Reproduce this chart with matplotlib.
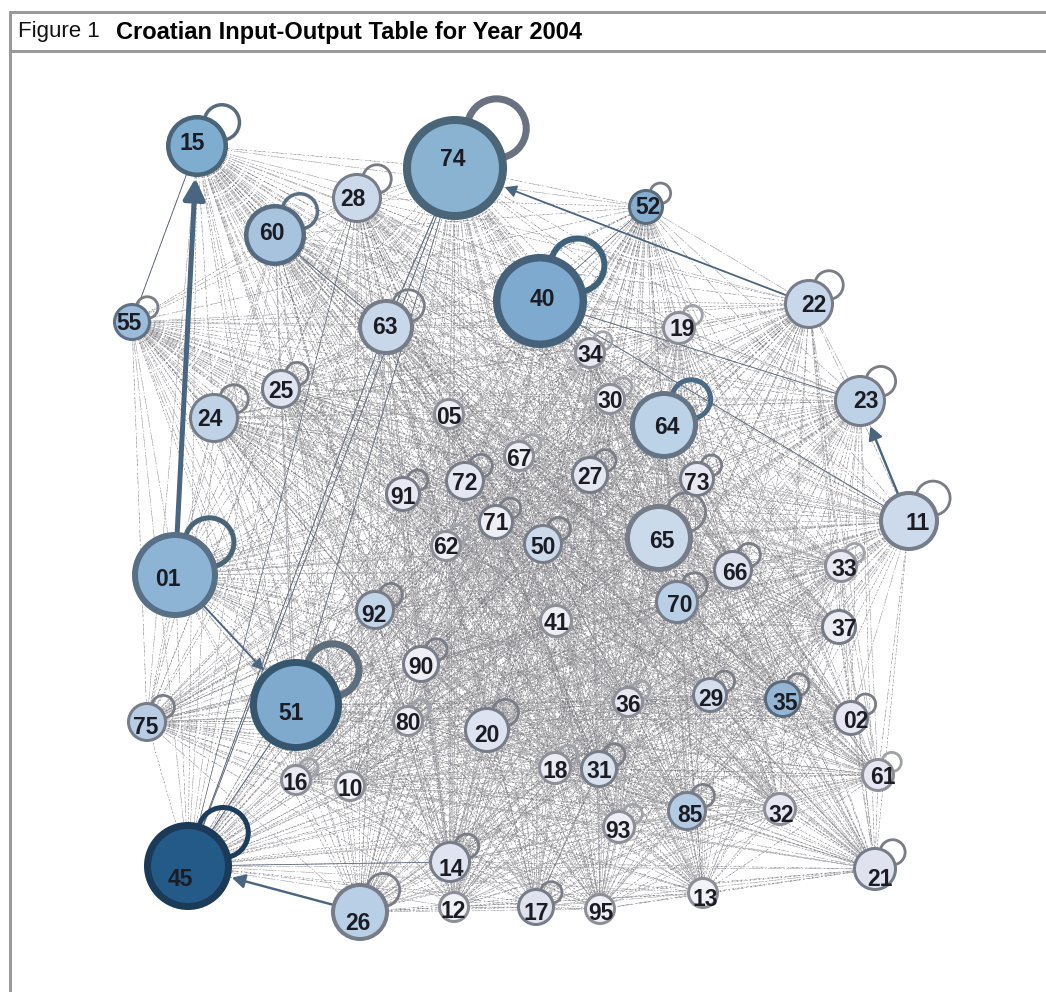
import matplotlib
matplotlib.use("Agg")
import matplotlib.pyplot as plt
from matplotlib.patches import Circle
from matplotlib.collections import LineCollection

plt.rcParams['font.family'] = ['Liberation Sans', 'DejaVu Sans']

labels = ["15","74","28","52","60","40","22","55","63","19","34","25","30","24","05","23","64","67","72","27",
          "73","91","11","71","65","50","62","66","33","01","70","92","41","37","90","51","36","29","35","75",
          "80","02","20","18","31","61","16","10","85","32","93","14","21","45","26","12","17","95","13"]
node_x = [197,455,357,646,275,540,809,132,386,679,590,281,610,214,449,860,664,519,465,590,
          697,403,909,496,659,543,446,733,841,175,677,375,556,839,421,296,628,710,783,147,
          408,851,487,555,599,878,296,350,687,780,619,450,875,188,360,454,536,600,703]
node_y = [146,168,198,207,235,301,304,322,327,328,353,389,399,418,414,401,425,456,481,475,
          479,494,521,522,538,544,546,570,566,575,602,610,621,627,664,705,702,695,699,722,
          721,718,730,768,769,775,780,786,811,809,827,862,869,866,912,907,907,909,893]
node_r = [31,52,25,18,31,47,25,19,28,17,16,20,16,25,16,26,34,16,20,19,
          18,18,30,18,34,20,16,20,17,43,22,20,17,18,19,46,16,18,19,20,
          16,18,23,17,19,17,16,16,20,17,17,21,22,44,29,16,19,16,16]
label_x = [192,453,353,648,272,542,814,129,385,682,590,281,610,210,449,866,667,519,465,590,
           697,403,918,496,662,543,446,735,844,168,680,374,556,844,421,291,628,711,785,146,
           408,856,487,555,599,883,295,350,690,781,618,451,880,180,358,453,536,601,705]
label_y = [141,158,198,206,231,297,304,322,325,327,354,390,399,418,415,400,425,457,481,475,
           481,495,522,522,540,545,546,571,568,577,604,613,622,628,666,711,703,697,701,725,
           722,719,733,769,770,776,782,788,814,813,829,867,877,877,921,910,911,911,897]
fills = ["#7fadd0","#8ab3d2","#cbd9ea","#86aed0","#a8c3de","#7faacf","#c8d8ea","#9cbcda","#c8d8ea","#e8e8f3",
         "#e8e8f3","#e0e3f0","#eeeef5","#c0d3e6","#eeeef5","#bdd2e6","#bcd2e6","#eeeef5","#e4e6f2","#e4e6f2",
         "#e8e8f3","#e8e8f3","#ccdaeb","#eeeef5","#cbdaea","#ccdaeb","#eeeef5","#dfe3f0","#e8e8f3","#8eb4d5",
         "#b9cfe5","#c3d5e8","#eeeef5","#ececf4","#eeeef5","#7faacd","#e8e8f3","#d5deec","#94b6d4","#b8cde3",
         "#eeeef5","#e6e7f2","#dde3f0","#ececf4","#d9e1ee","#e6e7f2","#eaeaf3","#f2f2f8","#b4cce3","#e6e7f2",
         "#eeeef5","#e0e3f0","#e0e2f0","#245a88","#b9cfe5","#f2f2f8","#e0e2ee","#f0f0f6","#f2f2f8"]
ring_colors = {"15":"#4a6478","74":"#4a6478","52":"#5a6b7c","60":"#566b80","40":"#45627a","01":"#587085",
               "51":"#35566f","45":"#1a3a58","64":"#657585","55":"#5f7085","35":"#5a6b7c"}
ring_widths = {"74":8,"40":7.5,"51":7,"45":7,"01":6,"64":5,"65":5,"15":4.5,"60":4.5,"63":4,"11":4,"26":4}
loop_colors = {"40":"#3f617a","45":"#1c3e5c","64":"#4a6a85","01":"#4a6478","15":"#5a6b7a","60":"#5a7084","74":"#6a7180","51":"#5f6e7c"}
loop_widths = {"74":7,"40":6,"51":7,"01":5,"45":5,"64":5,"15":3.5,"60":3.5}
no_loop = ["10","12","95","13","41","37","32","05"]

strong_from = ["01","01","26","11","22","55","51","63","74","74","11","14","23","63","28","40","74"]
strong_to   = ["15","51","45","23","74","15","45","45","63","45","40","45","40","60","45","52","51"]
strong_w    = [5.0,1.8,2.4,2.4,1.8,0.9,1.1,0.9,1.1,0.9,0.9,0.8,0.9,1.0,0.6,0.7,0.8]
arrow_pairs = [("01","15"),("01","51"),("26","45"),("11","23"),("22","74")]

title_regular = "Figure 1"
title_bold = "Croatian Input-Output Table for Year 2004"

fig = plt.figure(figsize=(10.46, 9.92), dpi=100)
ax = fig.add_axes([0, 0, 1, 1])
ax.set_xlim(0, 1046)
ax.set_ylim(992, 0)
ax.axis("off")
px = 0.72

# frame
ax.plot([10, 10], [992, 12], color="#9a9a9a", lw=3*px, solid_capstyle="butt")
ax.plot([10, 1046], [12, 12], color="#9a9a9a", lw=3*px)
ax.plot([10, 1046], [51, 51], color="#9a9a9a", lw=3*px)
ax.text(18, 32, title_regular, fontsize=16, va="center", ha="left", color="#111111")
ax.text(116, 32, title_bold, fontsize=17, va="center", ha="left", fontweight="bold", color="#000000")

# all weak links, one layer per direction
n = len(labels)
styles = [((0, (3, 4)), "#85858b", 0.32), ((0, (22, 12)), "#b4b4b8", 0.4), ((0, (3, 7)), "#6c6c72", 0.32)]
for offset in (0, 1):
    segs = [[], [], []]
    for i in range(n):
        for j in range(i + 1, n):
            segs[(i + j + offset) % 3].append([(node_x[i], node_y[i]), (node_x[j], node_y[j])])
    for s, (ls, c, w) in zip(segs, styles):
        ax.add_collection(LineCollection(s, colors=c, linewidths=w, linestyles=[ls], zorder=1))

# strong links
idx = {k: i for i, k in enumerate(labels)}
for a, b, w in zip(strong_from, strong_to, strong_w):
    i, j = idx[a], idx[b]
    col = "#4a6580" if w > 1.5 else "#5c6b7c"
    if (a, b) in arrow_pairs:
        ax.annotate("", xy=(node_x[j], node_y[j]), xytext=(node_x[i], node_y[i]), zorder=2,
                    arrowprops=dict(arrowstyle="-|>,head_length=%.2f,head_width=%.2f" % (0.35 + w*0.18, 0.2 + w*0.09),
                                    lw=w*px, color=col, shrinkA=node_r[i]*px, shrinkB=node_r[j]*px + 1))
    else:
        ax.plot([node_x[i], node_x[j]], [node_y[i], node_y[j]], color=col, lw=w*px, zorder=2)

# self loops + nodes + labels
for k, x, y, r in zip(labels, node_x, node_y, node_r):
    if k in no_loop:
        continue
    default = "#7a7d86" if r > 17 else "#a0a2aa"
    ax.add_patch(Circle((x + 0.8*r, y - 0.76*r), 0.57*r, fill=False,
                        ec=loop_colors.get(k, default), lw=loop_widths.get(k, 2.8)*px, zorder=3))
for k, x, y, r, f, lx, ly in zip(labels, node_x, node_y, node_r, fills, label_x, label_y):
    lw = ring_widths.get(k, 3)
    default = "#767c88" if r > 17 else "#8d8f98"
    ax.add_patch(Circle((x, y), r - lw/2, fc=f, ec=ring_colors.get(k, default), lw=lw*px, zorder=4))
    ax.text(lx, ly + 2, k, fontsize=16.5, fontweight="bold", ha="center", va="center", color="#1c1c24", zorder=5)

fig.savefig("out.png", dpi=100)
